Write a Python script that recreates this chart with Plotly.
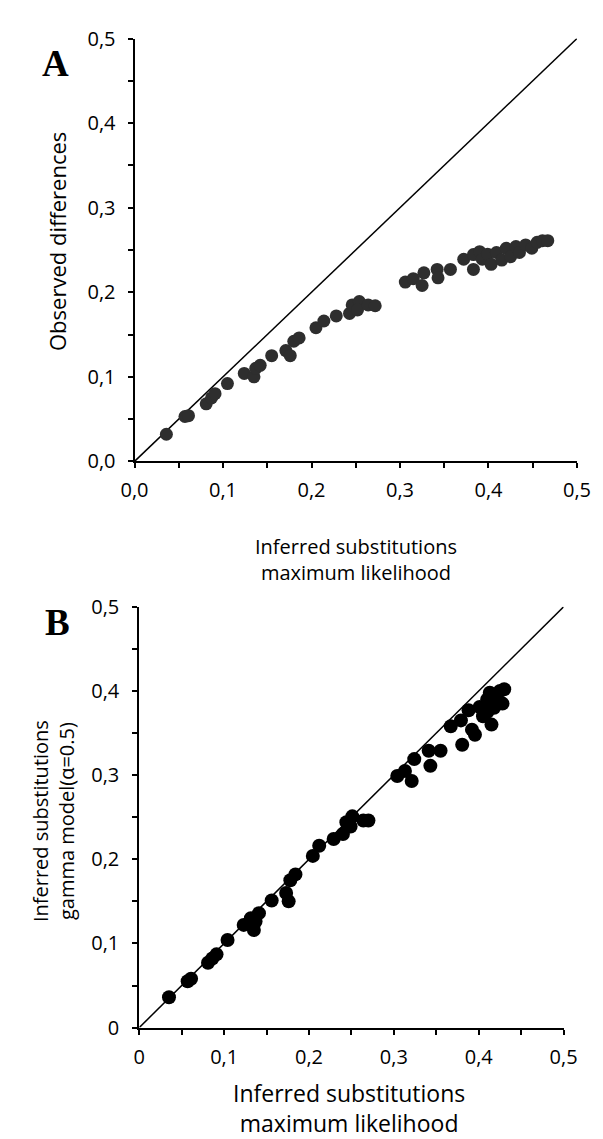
import plotly.graph_objects as go

# Panel A: inferred substitutions (ML) vs observed differences
a_x = [0.036, 0.057, 0.061, 0.081, 0.087, 0.091, 0.105, 0.124, 0.135, 0.137, 0.142,
       0.155, 0.171, 0.176, 0.180, 0.186, 0.205, 0.214, 0.228, 0.243, 0.246, 0.254,
       0.252, 0.264, 0.272, 0.306, 0.315, 0.325, 0.327, 0.342, 0.343, 0.357, 0.372,
       0.383, 0.383, 0.390, 0.393, 0.399, 0.403, 0.409, 0.415, 0.420, 0.425, 0.431,
       0.435, 0.442, 0.449, 0.455, 0.461, 0.467]
a_y = [0.032, 0.053, 0.054, 0.068, 0.075, 0.080, 0.092, 0.104, 0.100, 0.110, 0.1135,
       0.125, 0.131, 0.125, 0.142, 0.146, 0.158, 0.166, 0.172, 0.175, 0.185, 0.189,
       0.179, 0.185, 0.184, 0.212, 0.216, 0.208, 0.223, 0.227, 0.217, 0.227, 0.239,
       0.2445, 0.227, 0.248, 0.239, 0.245, 0.233, 0.247, 0.238, 0.252, 0.242, 0.254,
       0.247, 0.256, 0.252, 0.259, 0.261, 0.261]

# Panel B: inferred substitutions (ML) vs gamma model (alpha=0.5)
b_x = [0.035, 0.057, 0.061, 0.081, 0.086, 0.091, 0.104, 0.123, 0.1315, 0.135, 0.137,
       0.141, 0.156, 0.173, 0.176, 0.178, 0.184, 0.2045, 0.212, 0.229, 0.240, 0.244,
       0.249, 0.251, 0.264, 0.270, 0.304, 0.313, 0.321, 0.324, 0.341, 0.343, 0.355,
       0.367, 0.379, 0.3805, 0.388, 0.392, 0.3955, 0.401, 0.405, 0.410, 0.413, 0.418,
       0.420, 0.425, 0.430, 0.428, 0.415, 0.410]
b_y = [0.036, 0.055, 0.058, 0.077, 0.082, 0.087, 0.104, 0.122, 0.130, 0.116, 0.126,
       0.136, 0.151, 0.160, 0.150, 0.175, 0.182, 0.204, 0.216, 0.224, 0.230, 0.244,
       0.239, 0.251, 0.246, 0.246, 0.299, 0.305, 0.293, 0.319, 0.329, 0.311, 0.329,
       0.358, 0.365, 0.336, 0.377, 0.354, 0.348, 0.381, 0.370, 0.390, 0.398, 0.380,
       0.395, 0.400, 0.402, 0.385, 0.360, 0.375]

diag = [0.0, 0.5]
tick_vals = [0.0, 0.1, 0.2, 0.3, 0.4, 0.5]
ticks_a = ["0,0", "0,1", "0,2", "0,3", "0,4", "0,5"]
ticks_b = ["0", "0,1", "0,2", "0,3", "0,4", "0,5"]

W, H = 603, 1139
FONT = "Open Sans"

def dom_x(p0, p1):
    return [p0 / W, p1 / W]

def dom_y(top, bottom):
    return [1 - bottom / H, 1 - top / H]

fig = go.Figure()
fig.add_trace(go.Scatter(x=diag, y=diag, mode="lines", line=dict(color="black", width=1.5),
                         xaxis="x", yaxis="y", showlegend=False, hoverinfo="skip"))
fig.add_trace(go.Scatter(x=a_x, y=a_y, mode="markers",
                         marker=dict(size=13, color="#2e2e2e", line=dict(width=0)),
                         xaxis="x", yaxis="y", showlegend=False))
fig.add_trace(go.Scatter(x=diag, y=diag, mode="lines", line=dict(color="black", width=1.5),
                         xaxis="x2", yaxis="y2", showlegend=False, hoverinfo="skip"))
fig.add_trace(go.Scatter(x=b_x, y=b_y, mode="markers",
                         marker=dict(size=14, color="black", line=dict(width=0)),
                         xaxis="x2", yaxis="y2", showlegend=False))

common = dict(range=[0, 0.5], showgrid=False, zeroline=False, showline=True,
              linecolor="black", linewidth=2, ticks="outside", ticklen=5,
              tickwidth=2, tickcolor="black", tickvals=tick_vals,
              tickfont=dict(family=FONT, size=20, color="black"),
              minor=dict(dtick=0.05, tick0=0, ticks="outside", ticklen=5,
                         tickwidth=2, tickcolor="black"),
              fixedrange=True)

fig.update_layout(
    width=W, height=H, margin=dict(l=0, r=0, t=0, b=0),
    paper_bgcolor="white", plot_bgcolor="white",
    xaxis=dict(common, domain=dom_x(118, 582), anchor="y", ticktext=ticks_a,
               ticklabelstandoff=5),
    yaxis=dict(common, domain=dom_y(17, 450), anchor="x", ticktext=ticks_a,
               ticklabelstandoff=8),
    xaxis2=dict(common, domain=dom_x(123, 568), anchor="y2", ticktext=ticks_b,
                ticklabelstandoff=5),
    yaxis2=dict(common, domain=dom_y(599, 1030), anchor="x2", ticktext=ticks_b,
                ticklabelstandoff=9),
)

def ann(text, x, y, size, angle=0, family=FONT, bold=False):
    fig.add_annotation(text=("<b>%s</b>" % text) if bold else text,
                       x=x / W, y=1 - y / H, xref="paper", yref="paper",
                       showarrow=False, textangle=angle,
                       font=dict(family=family, size=size, color="black"),
                       xanchor="center", yanchor="middle")

ann("A", 35, 42, 37, family="Liberation Serif", bold=True)
ann("B", 37, 615, 37, family="Liberation Serif", bold=True)
ann("Observed differences", 36, 225, 22, angle=-90)
ann("Inferred substitutions<br>maximum likelihood", 350, 551, 20)
ann("Inferred substitutions<br>gamma model(α=0.5)", 33, 818, 20, angle=-90)
ann("Inferred substitutions<br>maximum likelihood", 343, 1112, 23)

fig.write_html("out.html")
